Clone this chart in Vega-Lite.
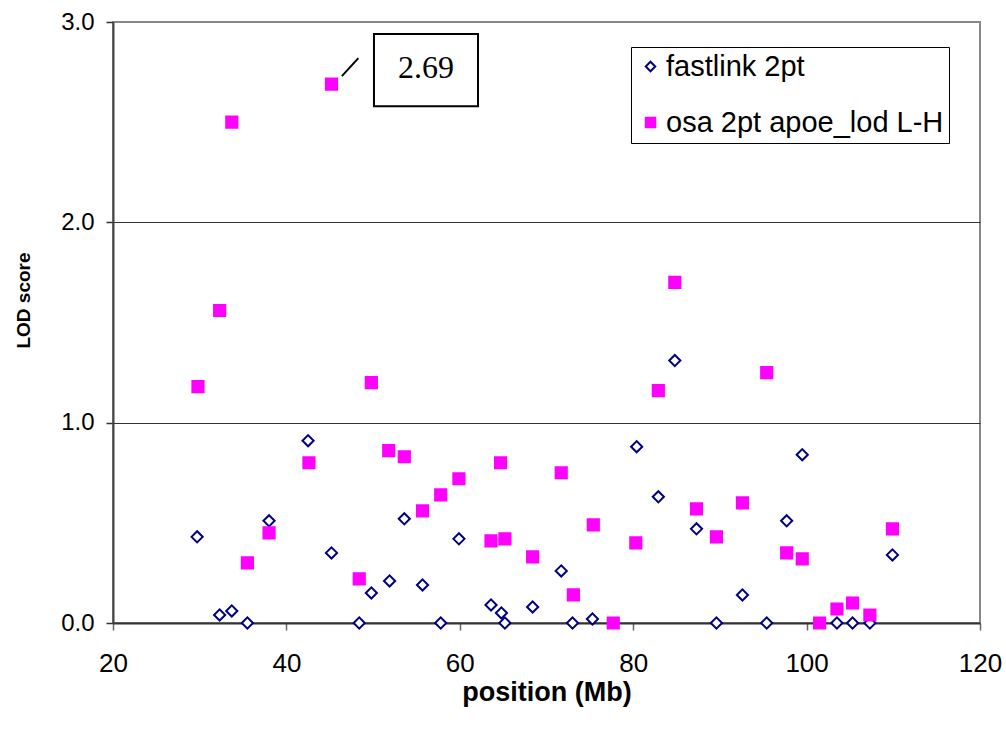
{
  "$schema": "https://vega.github.io/schema/vega-lite/v6.json",
  "width": 867,
  "height": 601,
  "autosize": "none",
  "padding": {"left": 113, "top": 22, "right": 26, "bottom": 107},
  "background": "white",
  "config": {
    "font": "Liberation Sans",
    "view": {"stroke": "#888888", "strokeWidth": 2}
  },
  "datasets": {
    "pts": [
      {"pos": 29.7, "lod": 0.43, "series": "fastlink 2pt"},
      {"pos": 32.3, "lod": 0.04, "series": "fastlink 2pt"},
      {"pos": 33.7, "lod": 0.06, "series": "fastlink 2pt"},
      {"pos": 35.5, "lod": 0.0, "series": "fastlink 2pt"},
      {"pos": 38.0, "lod": 0.51, "series": "fastlink 2pt"},
      {"pos": 42.5, "lod": 0.91, "series": "fastlink 2pt"},
      {"pos": 45.2, "lod": 0.35, "series": "fastlink 2pt"},
      {"pos": 48.4, "lod": 0.0, "series": "fastlink 2pt"},
      {"pos": 49.8, "lod": 0.15, "series": "fastlink 2pt"},
      {"pos": 51.9, "lod": 0.21, "series": "fastlink 2pt"},
      {"pos": 53.6, "lod": 0.52, "series": "fastlink 2pt"},
      {"pos": 55.7, "lod": 0.19, "series": "fastlink 2pt"},
      {"pos": 57.8, "lod": 0.0, "series": "fastlink 2pt"},
      {"pos": 59.9, "lod": 0.42, "series": "fastlink 2pt"},
      {"pos": 63.6, "lod": 0.09, "series": "fastlink 2pt"},
      {"pos": 64.8, "lod": 0.05, "series": "fastlink 2pt"},
      {"pos": 65.2, "lod": 0.0, "series": "fastlink 2pt"},
      {"pos": 68.4, "lod": 0.08, "series": "fastlink 2pt"},
      {"pos": 71.7, "lod": 0.26, "series": "fastlink 2pt"},
      {"pos": 73.0, "lod": 0.0, "series": "fastlink 2pt"},
      {"pos": 75.3, "lod": 0.02, "series": "fastlink 2pt"},
      {"pos": 80.4, "lod": 0.88, "series": "fastlink 2pt"},
      {"pos": 82.9, "lod": 0.63, "series": "fastlink 2pt"},
      {"pos": 84.8, "lod": 1.31, "series": "fastlink 2pt"},
      {"pos": 87.3, "lod": 0.47, "series": "fastlink 2pt"},
      {"pos": 89.6, "lod": 0.0, "series": "fastlink 2pt"},
      {"pos": 92.6, "lod": 0.14, "series": "fastlink 2pt"},
      {"pos": 95.4, "lod": 0.0, "series": "fastlink 2pt"},
      {"pos": 97.7, "lod": 0.51, "series": "fastlink 2pt"},
      {"pos": 99.5, "lod": 0.84, "series": "fastlink 2pt"},
      {"pos": 103.5, "lod": 0.0, "series": "fastlink 2pt"},
      {"pos": 105.3, "lod": 0.0, "series": "fastlink 2pt"},
      {"pos": 107.3, "lod": 0.0, "series": "fastlink 2pt"},
      {"pos": 109.9, "lod": 0.34, "series": "fastlink 2pt"},
      {"pos": 29.8, "lod": 1.18, "series": "osa 2pt apoe_lod L-H"},
      {"pos": 32.3, "lod": 1.56, "series": "osa 2pt apoe_lod L-H"},
      {"pos": 33.7, "lod": 2.5, "series": "osa 2pt apoe_lod L-H"},
      {"pos": 35.5, "lod": 0.3, "series": "osa 2pt apoe_lod L-H"},
      {"pos": 38.0, "lod": 0.45, "series": "osa 2pt apoe_lod L-H"},
      {"pos": 42.6, "lod": 0.8, "series": "osa 2pt apoe_lod L-H"},
      {"pos": 45.2, "lod": 2.69, "series": "osa 2pt apoe_lod L-H"},
      {"pos": 48.4, "lod": 0.22, "series": "osa 2pt apoe_lod L-H"},
      {"pos": 49.8, "lod": 1.2, "series": "osa 2pt apoe_lod L-H"},
      {"pos": 51.8, "lod": 0.86, "series": "osa 2pt apoe_lod L-H"},
      {"pos": 53.6, "lod": 0.83, "series": "osa 2pt apoe_lod L-H"},
      {"pos": 55.7, "lod": 0.56, "series": "osa 2pt apoe_lod L-H"},
      {"pos": 57.8, "lod": 0.64, "series": "osa 2pt apoe_lod L-H"},
      {"pos": 59.9, "lod": 0.72, "series": "osa 2pt apoe_lod L-H"},
      {"pos": 63.6, "lod": 0.41, "series": "osa 2pt apoe_lod L-H"},
      {"pos": 64.7, "lod": 0.8, "series": "osa 2pt apoe_lod L-H"},
      {"pos": 65.2, "lod": 0.42, "series": "osa 2pt apoe_lod L-H"},
      {"pos": 68.4, "lod": 0.33, "series": "osa 2pt apoe_lod L-H"},
      {"pos": 71.7, "lod": 0.75, "series": "osa 2pt apoe_lod L-H"},
      {"pos": 73.1, "lod": 0.14, "series": "osa 2pt apoe_lod L-H"},
      {"pos": 75.4, "lod": 0.49, "series": "osa 2pt apoe_lod L-H"},
      {"pos": 77.7, "lod": 0.0, "series": "osa 2pt apoe_lod L-H"},
      {"pos": 80.3, "lod": 0.4, "series": "osa 2pt apoe_lod L-H"},
      {"pos": 82.9, "lod": 1.16, "series": "osa 2pt apoe_lod L-H"},
      {"pos": 84.8, "lod": 1.7, "series": "osa 2pt apoe_lod L-H"},
      {"pos": 87.3, "lod": 0.57, "series": "osa 2pt apoe_lod L-H"},
      {"pos": 89.6, "lod": 0.43, "series": "osa 2pt apoe_lod L-H"},
      {"pos": 92.6, "lod": 0.6, "series": "osa 2pt apoe_lod L-H"},
      {"pos": 95.4, "lod": 1.25, "series": "osa 2pt apoe_lod L-H"},
      {"pos": 97.7, "lod": 0.35, "series": "osa 2pt apoe_lod L-H"},
      {"pos": 99.5, "lod": 0.32, "series": "osa 2pt apoe_lod L-H"},
      {"pos": 101.5, "lod": 0.0, "series": "osa 2pt apoe_lod L-H"},
      {"pos": 103.5, "lod": 0.07, "series": "osa 2pt apoe_lod L-H"},
      {"pos": 105.3, "lod": 0.1, "series": "osa 2pt apoe_lod L-H"},
      {"pos": 107.3, "lod": 0.04, "series": "osa 2pt apoe_lod L-H"},
      {"pos": 109.9, "lod": 0.47, "series": "osa 2pt apoe_lod L-H"}
    ],
    "note": [
      {"pos": 50.1, "pos2": 62.1, "lod": 2.58, "lod2": 2.94, "tpos": 56.1, "tlod": 2.77, "label": "2.69", "lpos": 46.4, "llod": 2.73, "lpos2": 48.3, "llod2": 2.82}
    ]
  },
  "layer": [
    {
      "data": {"name": "pts"},
      "mark": {"type": "point", "strokeWidth": 2, "opacity": 1, "size": 125},
      "encoding": {
        "x": {
          "field": "pos", "type": "quantitative",
          "scale": {"domain": [20, 120], "nice": false, "zero": false},
          "axis": {
            "title": "position (Mb)", "values": [20, 40, 60, 80, 100, 120],
            "grid": false, "tickSize": 7, "tickColor": "#666666", "tickWidth": 1.5,
            "domainColor": "#333333", "domainWidth": 2,
            "labelFontSize": 26, "labelColor": "#000000", "labelPadding": 20,
            "labelFlush": false,
            "titleFontSize": 27, "titleFontWeight": "bold", "titleColor": "#000000", "titlePadding": 3
          }
        },
        "y": {
          "field": "lod", "type": "quantitative",
          "scale": {"domain": [0, 3], "nice": false},
          "axis": {
            "title": "LOD score", "values": [0, 1, 2, 3], "format": ".1f",
            "grid": true,
            "gridColor": {"condition": {"test": "datum.value === 3 || datum.value === 0", "value": "transparent"}, "value": "#333333"},
            "gridWidth": 1,
            "tickSize": 7, "tickColor": "#333333", "tickWidth": 1.5,
            "domainColor": "#444444", "domainWidth": 2,
            "labelFontSize": 24, "labelColor": "#000000", "labelPadding": 12,
            "labelFlush": false,
            "titleFontSize": 19, "titleFontWeight": "bold", "titleColor": "#000000", "titlePadding": 27,
            "titleY": 278
          }
        },
        "shape": {
          "field": "series", "type": "nominal",
          "scale": {"domain": ["fastlink 2pt", "osa 2pt apoe_lod L-H"], "range": ["diamond", "square"]},
          "legend": {
            "title": null, "orient": "none", "legendX": 518, "legendY": 25,
            "strokeColor": "#000000", "fillColor": "#ffffff", "padding": 5,
            "labelFontSize": 29, "labelColor": "#000000", "labelFont": "Liberation Sans",
            "rowPadding": 26, "symbolSize": 90, "symbolStrokeWidth": 2, "labelOffset": 1,
            "labelLimit": 400
          }
        },
        "fill": {
          "field": "series", "type": "nominal",
          "scale": {"domain": ["fastlink 2pt", "osa 2pt apoe_lod L-H"], "range": ["#ffffff", "#ff00ff"]},
          "legend": {
            "title": null, "orient": "none", "legendX": 518, "legendY": 25,
            "strokeColor": "#000000", "fillColor": "#ffffff", "padding": 5,
            "labelFontSize": 29, "labelColor": "#000000", "labelFont": "Liberation Sans",
            "rowPadding": 26, "symbolSize": 90, "symbolStrokeWidth": 2, "labelOffset": 1,
            "labelLimit": 400
          }
        },
        "stroke": {
          "field": "series", "type": "nominal",
          "scale": {"domain": ["fastlink 2pt", "osa 2pt apoe_lod L-H"], "range": ["#000080", "#ff00ff"]},
          "legend": {
            "title": null, "orient": "none", "legendX": 518, "legendY": 25,
            "strokeColor": "#000000", "fillColor": "#ffffff", "padding": 5,
            "labelFontSize": 29, "labelColor": "#000000", "labelFont": "Liberation Sans",
            "rowPadding": 26, "symbolSize": 90, "symbolStrokeWidth": 2, "labelOffset": 1,
            "labelLimit": 400
          }
        }
      }
    },
    {
      "data": {"name": "note"},
      "mark": {"type": "rect", "fill": "#ffffff", "stroke": "#000000", "strokeWidth": 2},
      "encoding": {
        "x": {"field": "pos", "type": "quantitative", "title": "position (Mb)"},
        "x2": {"field": "pos2"},
        "y": {"field": "lod", "type": "quantitative", "title": "LOD score"},
        "y2": {"field": "lod2"}
      }
    },
    {
      "data": {"name": "note"},
      "mark": {"type": "text", "font": "Liberation Serif", "fontSize": 32, "color": "#000000", "align": "center", "baseline": "middle"},
      "encoding": {
        "x": {"field": "tpos", "type": "quantitative", "title": "position (Mb)"},
        "y": {"field": "tlod", "type": "quantitative", "title": "LOD score"},
        "text": {"field": "label"}
      }
    },
    {
      "data": {"name": "note"},
      "mark": {"type": "rule", "color": "#000000", "strokeWidth": 2},
      "encoding": {
        "x": {"field": "lpos", "type": "quantitative", "title": "position (Mb)"},
        "x2": {"field": "lpos2"},
        "y": {"field": "llod", "type": "quantitative", "title": "LOD score"},
        "y2": {"field": "llod2"}
      }
    }
  ]
}
